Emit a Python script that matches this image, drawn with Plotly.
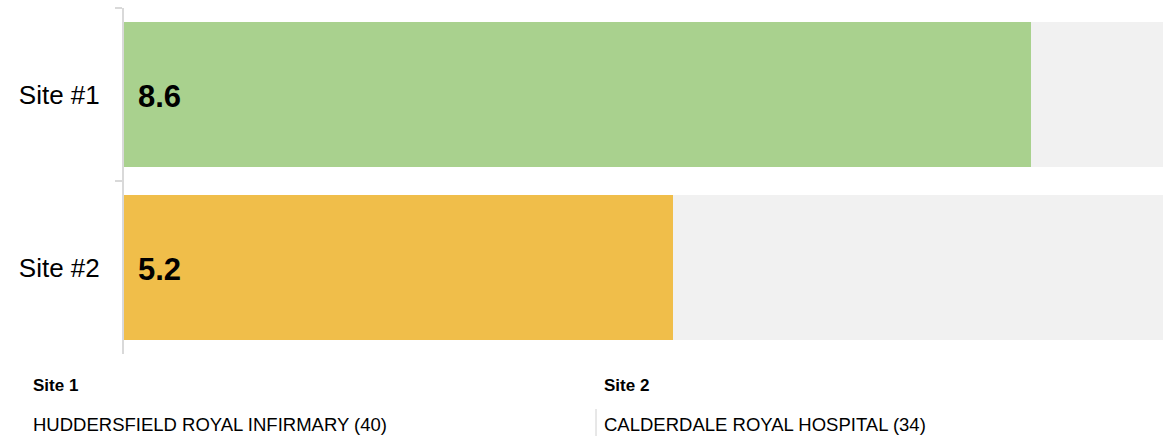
import plotly.graph_objects as go

# Scores per site (out of 10)
sites = ["Site #1", "Site #2"]
scores = [8.6, 5.2]
score_labels = ["8.6", "5.2"]
max_score = 10
bar_colors = ["#A9D18E", "#F0BE4A"]

# Footer legend
footer_titles = ["Site 1", "Site 2"]
footer_names = ["HUDDERSFIELD ROYAL INFIRMARY (40)", "CALDERDALE ROYAL HOSPITAL (34)"]

W, H = 1163, 436
ML, MR, MT, MB = 124, 0, 8, 82
PW, PH = W - ML - MR, H - MT - MB
FONT = "Liberation Sans, Arial, sans-serif"


def px_x(px):
    return (px - ML) / PW


def px_y(py):
    return (H - MB - py) / PH


fig = go.Figure()

# full-scale track behind each score
fig.add_trace(go.Bar(
    y=sites, x=[max_score] * len(sites), orientation="h",
    marker=dict(color="#F1F1F1", line=dict(width=0)),
    width=0.84, hoverinfo="skip", showlegend=False,
))
fig.add_trace(go.Bar(
    y=sites, x=scores, orientation="h",
    marker=dict(color=bar_colors, line=dict(width=0)),
    width=0.84, showlegend=False,
))

annotations = []
for s, lab in zip(sites, score_labels):
    annotations.append(dict(
        x=0, y=s, xref="x", yref="y", text=f"<b>{lab}</b>",
        xanchor="left", yanchor="middle", xshift=12, yshift=-2,
        showarrow=False,
        font=dict(family=FONT, size=31, color="#000000"),
    ))

footer_x = [32, 603]
for fx, title, name in zip(footer_x, footer_titles, footer_names):
    annotations.append(dict(
        x=px_x(fx), y=px_y(385), xref="paper", yref="paper",
        text=f"<b>{title}</b>", xanchor="left", yanchor="middle",
        showarrow=False, xshift=-1,
        font=dict(family=FONT, size=17, color="#000000"),
    ))
    annotations.append(dict(
        x=px_x(fx), y=px_y(424), xref="paper", yref="paper",
        text=name, xanchor="left", yanchor="middle",
        showarrow=False, xshift=-1,
        font=dict(family=FONT, size=18.5, color="#000000"),
    ))

shapes = [dict(
    type="line", xref="paper", yref="paper",
    x0=px_x(596), x1=px_x(596), y0=px_y(409), y1=px_y(436),
    line=dict(color="#D0D0D0", width=1),
)]

fig.update_layout(
    width=W, height=H,
    margin=dict(l=ML, r=MR, t=MT, b=MB, pad=0),
    barmode="overlay", bargap=0,
    plot_bgcolor="#FFFFFF", paper_bgcolor="#FFFFFF",
    annotations=annotations, shapes=shapes,
    xaxis=dict(range=[0, 9.85], visible=False, fixedrange=True),
    yaxis=dict(
        type="category", range=[1.5, -0.5],
        showline=True, linecolor="#D9D9D9", linewidth=2,
        ticks="outside", tickson="boundaries", ticklen=7,
        tickcolor="#D9D9D9", tickwidth=2,
        ticklabelstandoff=17,
        tickfont=dict(family=FONT, size=26, color="#000000"),
        showgrid=False, zeroline=False, fixedrange=True,
    ),
)

fig.write_html("out.html")
